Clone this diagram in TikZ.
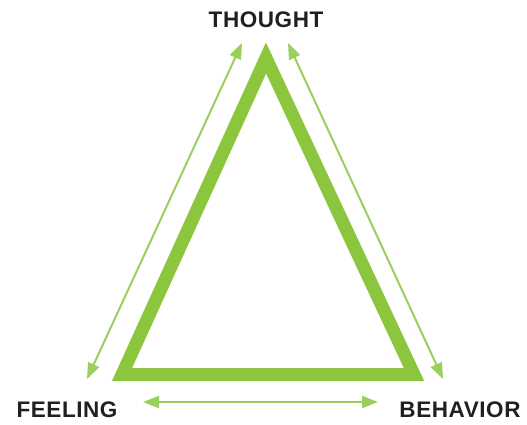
\documentclass[tikz,border=0pt]{standalone}
\usepackage{fontspec}
\setmainfont{Liberation Sans}
\usepackage{xcolor}
\usetikzlibrary{arrows.meta,positioning,calc}

\definecolor{leaf}{HTML}{8CC63F}
\definecolor{lightleaf}{HTML}{9ACF5C}
\definecolor{ink}{HTML}{231F20}

\begin{document}
\begin{tikzpicture}[
  x=1pt, y=-1pt,
  >={Triangle[length=16pt,width=12pt]},
  label/.style={inner sep=0pt, text=ink, font=\addfontfeatures{LetterSpace=2.5}\fontsize{22.5}{23}\selectfont\bfseries},
  edge/.style={draw=leaf, line width=13pt, miter limit=10},
  arrow/.style={<->, draw=lightleaf, line width=2pt}
]
\useasboundingbox (0,0) rectangle (527,424);

% LABELS
\node[label] (thought)  at (266,20)  {THOUGHT};
\node[label] (feeling)  at (67,410)  {FEELING};
\node[label] (behavior) at (460,410) {BEHAVIOR};

% TRIANGLE
\coordinate (top)   at (266,58);
\coordinate (left)  at (122,374.5);
\coordinate (right) at (414,374.5);
\draw[edge] (top) -- (left) -- (right) -- cycle;

% ARROW ENDS
\coordinate (tl) at (242,43);
\coordinate (bl) at (87,379);
\coordinate (tr) at (288,43);
\coordinate (br) at (443,379);
\coordinate (hl) at (143,402);
\coordinate (hr) at (378,402);

\draw[arrow] (bl) -- (tl);
\draw[arrow] (tr) -- (br);
\draw[arrow] (hl) -- (hr);
\end{tikzpicture}
\end{document}
